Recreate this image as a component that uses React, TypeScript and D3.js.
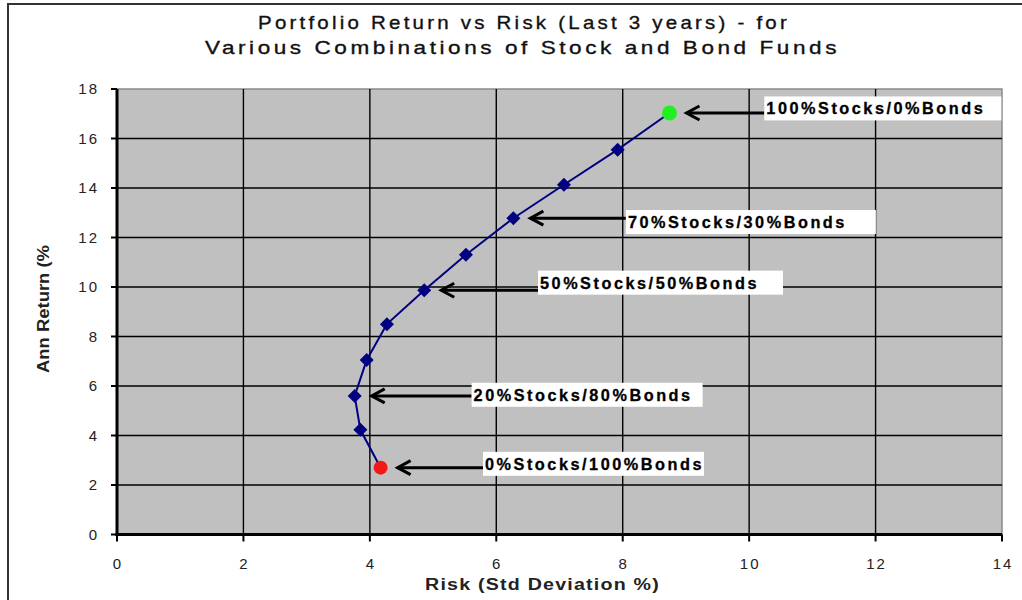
import React from "react";
import * as d3 from "d3";

// Portfolio mixes (0% stocks -> 100% stocks, in 10% steps)
const risk = [4.17, 3.85, 3.76, 3.95, 4.27, 4.86, 5.52, 6.27, 7.07, 7.92, 8.74];
const annReturn = [2.7, 4.23, 5.6, 7.05, 8.5, 9.87, 11.3, 12.78, 14.13, 15.55, 17.03];

const xTicks = [0, 2, 4, 6, 8, 10, 12, 14];
const yTicks = [0, 2, 4, 6, 8, 10, 12, 14, 16, 18];

const titleLines = [
  "Portfolio Return vs Risk (Last 3 years) - for",
  "Various Combinations of Stock and Bond Funds",
];
const xLabel = "Risk (Std Deviation %)";
const yLabel = "Ann Return (%";

const annotationLabels = [
  "100%Stocks/0%Bonds",
  "70%Stocks/30%Bonds",
  "50%Stocks/50%Bonds",
  "20%Stocks/80%Bonds",
  "0%Stocks/100%Bonds",
];
const annotationPointIndex = [10, 7, 5, 2, 0];

// layout of annotation boxes (data units for box left / top, px for width)
const annBoxLeft = [10.24, 8.05, 6.66, 5.61, 5.79];
const annBoxTop = [17.7, 13.11, 10.66, 6.13, 3.34];
const annBoxWidth = [237, 250, 245, 231, 221];

const FONT = "'Liberation Sans', Arial, Helvetica, sans-serif";

export default function App() {
  const W = 1022;
  const H = 600;
  const left = 117;
  const right = 1002;
  const top = 89;
  const bottom = 534.5;

  const x = d3.scaleLinear().domain([0, 14]).range([left, right]);
  const y = d3.scaleLinear().domain([0, 18]).range([bottom, top]);

  const pts = risk.map((r, i) => [x(r), y(annReturn[i])] as [number, number]);
  const line = d3.line()(pts) || "";
  const d = 7;
  const diamond = `M0,${-d}L${d},0L0,${d}L${-d},0Z`;

  return (
    <svg
      width={W}
      height={H}
      style={{ position: "absolute", left: 0, top: 0, background: "#fff" }}
      fontFamily={FONT}
    >
      <rect x={0} y={0} width={W} height={H} fill="#fff" />
      <rect x={8} y={4} width={W + 20} height={H + 20} fill="none" stroke="#333" strokeWidth={2} />

      {/* Title */}
      <g fill="#111" stroke="#111" strokeWidth={0.35}>
        <text x={258} y={29} fontSize={19} letterSpacing={3} textLength={532} lengthAdjust="spacingAndGlyphs">
          {titleLines[0]}
        </text>
        <text x={205} y={54} fontSize={19} letterSpacing={3} textLength={635} lengthAdjust="spacingAndGlyphs">
          {titleLines[1]}
        </text>
      </g>

      {/* Plot area */}
      <rect x={left} y={top} width={right - left} height={bottom - top} fill="#c0c0c0" stroke="#8a8a8a" strokeWidth={1.5} />

      {/* Grid */}
      {yTicks.filter((t) => t > 0 && t < 18).map((t) => (
        <line key={"gy" + t} x1={left} x2={right} y1={y(t)} y2={y(t)} stroke="#000" strokeWidth={1.4} />
      ))}
      {xTicks.filter((t) => t > 0 && t < 14).map((t) => (
        <line key={"gx" + t} x1={x(t)} x2={x(t)} y1={top} y2={bottom} stroke="#000" strokeWidth={1.4} />
      ))}

      {/* Axes */}
      <line x1={left} x2={left} y1={top} y2={bottom + 1.5} stroke="#000" strokeWidth={3} />
      <line x1={left - 1.5} x2={right} y1={bottom} y2={bottom} stroke="#000" strokeWidth={3} />
      {yTicks.map((t) => (
        <line key={"ty" + t} x1={left - 6} x2={left} y1={y(t)} y2={y(t)} stroke="#000" strokeWidth={2} />
      ))}
      {xTicks.map((t) => (
        <line key={"tx" + t} x1={x(t)} x2={x(t)} y1={bottom} y2={bottom + 7} stroke="#000" strokeWidth={2} />
      ))}
      {yTicks.map((t) => (
        <text key={"ly" + t} x={left - 18} y={y(t) + 5} fontSize={15} fill="#222" textAnchor="end" letterSpacing={2}>
          {t}
        </text>
      ))}
      {xTicks.map((t) => (
        <text key={"lx" + t} x={x(t) + 1} y={569} fontSize={15} fill="#222" textAnchor="middle" letterSpacing={2}>
          {t}
        </text>
      ))}

      {/* Axis titles */}
      <text x={425} y={590} fontSize={16} fontWeight="bold" fill="#222" letterSpacing={1} textLength={235} lengthAdjust="spacingAndGlyphs">
        {xLabel}
      </text>
      <text
        transform={`translate(49,${373}) rotate(-90)`}
        fontSize={16}
        fontWeight="bold"
        fill="#222"
        textLength={128}
        lengthAdjust="spacingAndGlyphs"
      >
        {yLabel}
      </text>

      {/* Series */}
      <path d={line} fill="none" stroke="#000080" strokeWidth={2} />
      {pts.map((p, i) => {
        if (i === 0) return <circle key={i} cx={p[0]} cy={p[1]} r={7} fill="#f01818" />;
        if (i === pts.length - 1) return <circle key={i} cx={p[0]} cy={p[1]} r={7.5} fill="#22ee22" />;
        return <path key={i} d={diamond} transform={`translate(${p[0]},${p[1]})`} fill="#000080" />;
      })}

      {/* Annotations */}
      {annotationLabels.map((lab, i) => {
        const p = pts[annotationPointIndex[i]];
        const tipX = p[0] + 17;
        const ay = p[1];
        const bx = x(annBoxLeft[i]);
        const by = y(annBoxTop[i]);
        return (
          <g key={lab}>
            <line x1={bx} x2={tipX} y1={ay} y2={ay} stroke="#000" strokeWidth={3} />
            <path
              d={`M${tipX + 13},${ay - 7} L${tipX},${ay} L${tipX + 13},${ay + 7}`}
              fill="none"
              stroke="#000"
              strokeWidth={3}
            />
            <rect x={bx} y={by} width={annBoxWidth[i]} height={24} fill="#fff" />
            <text x={bx + 2} y={by + 18} fontSize={16} fontWeight="bold" fill="#000" stroke="#000" strokeWidth={0.3} letterSpacing={2.5} textLength={219} lengthAdjust="spacingAndGlyphs">
              {lab}
            </text>
          </g>
        );
      })}
    </svg>
  );
}
